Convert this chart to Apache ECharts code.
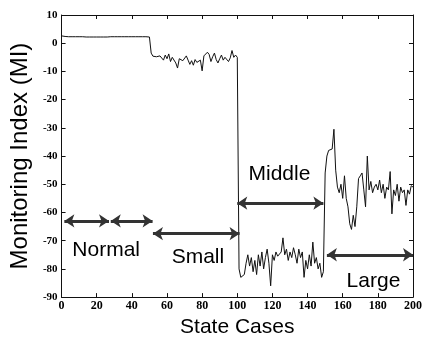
<!DOCTYPE html>
<html>
<head>
<meta charset="utf-8">
<script src="https://cdn.jsdelivr.net/npm/echarts@6/dist/echarts.min.js"></script>
<style>
html,body{margin:0;padding:0;background:#fff;}
#chart{width:425px;height:343px;}
</style>
</head>
<body>
<div id="chart"></div>
<script>
// Monitoring index values, x = state case number
const normalSeg = [2.6,2.5,2.4,2.4,2.3,2.3,2.3,2.3,2.3,2.3, 2.3,2.3,2.3,2.2,2.2,2.2,2.2,2.2,2.2,2.2, 2.2,2.2,2.2,2.2,2.2,2.2,2.2,2.3,2.3,2.3, 2.3,2.3,2.3,2.3,2.3,2.3,2.3,2.3,2.3,2.3, 2.3,2.3,2.3,2.3,2.3,2.3,2.3,2.3,2.3,2.2, 2.2];
const smallSeg = [-3.5,-4.6,-5,-4.8,-5.5,-4.5,-5.2,-6,-4.2,-5.5,
  -3.8,-6.5,-5,-4.5,-7,-8.8,-5.5,-4.8,-6.2,-5.5,
  -4.5,-6,-7.5,-6.2,-7.8,-5.8,-6.8,-7.2,-6,-9.8,
  -4.5,-5.2,-3.2,-4,-6.5,-4.8,-3.5,-5.8,-7,-5.5,
  -4.2,-6,-5,-4.6,-6.5,-5.2,-2.6,-5,-4.2,-5];
const middleSeg = [-80,-83,-83.5,-82,-78,-75,-79,-76,-81,-77,
  -82,-75,-79,-74,-80,-76,-73,-78,-86,-75,
  -77,-74,-75.5,-76,-74,-69,-75,-73,-77,-74,
  -76,-72.5,-75,-78,-73,-76,-74,-83,-77,-80,
  -75,-79,-70.5,-78,-76,-80,-78,-83,-81,-46];
const largeSeg = [-40,-38,-38,-37.5,-30.5,-45,-51,-53,-50,-55,
  -47,-55,-58,-64,-66,-61,-65,-58,-48,-47,
  -46,-52,-58,-40,-52,-49,-53,-51,-50,-52,
  -48.5,-53,-50,-55,-51,-52,-45.5,-60.5,-52,-54,
  -50,-56,-51,-53,-52,-57.5,-52,-53.5,-50.5,-51];

// double-headed arrows marking the fault ranges
const arrowStart = [1.6, 28, 52, 100, 151];
const arrowEnd   = [27, 51.8, 101.3, 149, 200];
const arrowLevel = [-63, -63, -67.5, -56.7, -75];

// range labels
const labelText = ['Normal', 'Small', 'Middle', 'Large'];
const labelX = [25.4, 77.6, 124, 177.5];
const labelY = [-73.5, -76, -46.5, -84.5];

const xTicks = {min: 0, max: 200, interval: 20};
const yTicks = {min: -90, max: 10, interval: 10};

const allValues = normalSeg.concat(smallSeg, middleSeg, largeSeg);
const lineData = allValues.map((v, i) => [i, v]);

const arrows = arrowStart.map((s, i) => [
  {coord: [s, arrowLevel[i]]},
  {coord: [arrowEnd[i], arrowLevel[i]]}
]);
const labels = labelText.map((t, i) => ({name: t, value: [labelX[i], labelY[i]]}));

const tickFont = {fontFamily: 'Liberation Sans Narrow', fontWeight: 'bold', color: '#000'};
const axisLineStyle = {show: true, onZero: false, lineStyle: {color: '#111', width: 1}};
const tickStyle = {inside: true, length: 4, lineStyle: {color: '#111'}};

const chart = echarts.init(document.getElementById('chart'), null, {renderer: 'canvas'});
chart.setOption({
  animation: false,
  backgroundColor: '#fff',
  grid: {left: 50, right: 7, top: 15, bottom: 43},
  xAxis: [
    {type: 'value', position: 'bottom', min: xTicks.min, max: xTicks.max, interval: xTicks.interval,
     axisLine: axisLineStyle, axisTick: tickStyle,
     axisLabel: Object.assign({fontSize: 12, margin: 3}, tickFont),
     splitLine: {show: false},
     name: 'State Cases', nameLocation: 'middle', nameGap: 17,
     nameTextStyle: {fontFamily: 'Liberation Sans', fontSize: 21, color: '#000'}},
    {type: 'value', position: 'top', min: xTicks.min, max: xTicks.max, interval: xTicks.interval,
     axisLine: axisLineStyle, axisTick: tickStyle,
     axisLabel: {show: false}, splitLine: {show: false}}
  ],
  yAxis: [
    {type: 'value', position: 'left', min: yTicks.min, max: yTicks.max, interval: yTicks.interval,
     axisLine: axisLineStyle, axisTick: tickStyle,
     axisLabel: Object.assign({fontSize: 11, margin: 4}, tickFont),
     splitLine: {show: false},
     name: 'Monitoring Index (MI)', nameLocation: 'middle', nameGap: 22,
     nameTextStyle: {fontFamily: 'Liberation Sans', fontSize: 24, color: '#000'}},
    {type: 'value', position: 'right', min: yTicks.min, max: yTicks.max, interval: yTicks.interval,
     axisLine: axisLineStyle, axisTick: tickStyle,
     axisLabel: {show: false}, splitLine: {show: false}}
  ],
  series: [
    {type: 'line', data: lineData, showSymbol: false, symbol: 'none',
     lineStyle: {color: '#111', width: 1},
     markLine: {silent: true, symbol: ['arrow', 'arrow'], symbolSize: 10,
       label: {show: false},
       lineStyle: {color: '#333', width: 3, type: 'solid'},
       data: arrows}},
    {type: 'scatter', data: labels, symbolSize: 1, silent: true,
     itemStyle: {color: 'rgba(0,0,0,0)', opacity: 1},
     label: {show: true, position: 'inside', formatter: '{b}', opacity: 1,
       fontFamily: 'Liberation Sans', fontSize: 21, color: '#000'}}
  ]
});
</script>
</body>
</html>
